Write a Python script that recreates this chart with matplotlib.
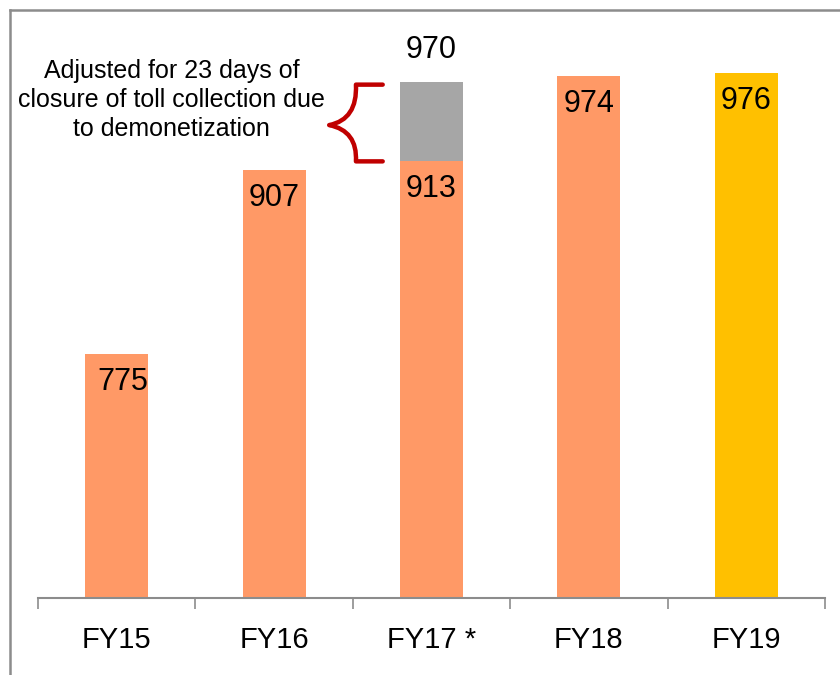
import matplotlib
matplotlib.use("Agg")
import matplotlib.pyplot as plt
from matplotlib.lines import Line2D
from matplotlib.path import Path
from matplotlib.patches import PathPatch

plt.rcParams['font.family'] = ['Liberation Sans', 'DejaVu Sans']

# data
years = ["FY15", "FY16", "FY17 *", "FY18", "FY19"]
values = [775, 907, 913, 974, 976]
fy17_adjusted = 970
bar_colors = ["#FF9966", "#FF9966", "#FF9966", "#FF9966", "#FFC000"]
note = "Adjusted for 23 days of\nclosure of toll collection due\nto demonetization"

fig = plt.figure(figsize=(8.4, 6.75), dpi=100)
ax = fig.add_axes([38/840, 77/675, (825-38)/840, (598-40)/675])

x = list(range(len(years)))
ax.bar(x, [v - 600 for v in values], bottom=600, width=0.4, color=bar_colors)
# extra part of FY17 after adjustment
ax.bar(2, fy17_adjusted - values[2], bottom=values[2], width=0.4, color="#A6A6A6")

for i, v in enumerate(values):
    ax.text(i + (0.04 if i == 0 else 0), v - 20, str(v), ha="center", va="center", fontsize=22)
ax.text(2, fy17_adjusted + 23, str(fy17_adjusted), ha="center", va="center", fontsize=22)

ax.text(0.35, 957, note, ha="center", va="center", fontsize=18, linespacing=1.25)

# red curly brace
verts = [(1.69, 968), (1.52, 968), (1.53, 943), (1.35, 939),
         (1.53, 935), (1.52, 913), (1.69, 913)]
codes = [Path.MOVETO, Path.LINETO, Path.CURVE3, Path.CURVE3,
         Path.CURVE3, Path.CURVE3, Path.LINETO]
ax.add_patch(PathPatch(Path(verts, codes), fill=False, edgecolor="#C00000",
                       lw=3.2, capstyle="round", joinstyle="round"))

ax.set_xlim(-0.5, 4.5)
ax.set_ylim(600, 1000)
ax.set_yticks([])
ax.set_xticks(x)
ax.set_xticklabels(years, fontsize=21)
ax.set_xticks([i - 0.5 for i in range(len(years) + 1)], minor=True)
ax.tick_params(axis="x", which="major", length=0, pad=20)
ax.tick_params(axis="x", which="minor", length=8, color="#8C8C8C", width=1.2)
for s in ["top", "left", "right"]:
    ax.spines[s].set_visible(False)
ax.spines["bottom"].set_color("#8C8C8C")
ax.spines["bottom"].set_linewidth(1.5)

# outer frame
fig.add_artist(Line2D([10/840, 10/840], [0, 1 - 10/675], color="#8C8C8C", lw=1.8))
fig.add_artist(Line2D([10/840, 1], [1 - 10/675, 1 - 10/675], color="#8C8C8C", lw=1.8))

fig.savefig("out.png", dpi=100)
